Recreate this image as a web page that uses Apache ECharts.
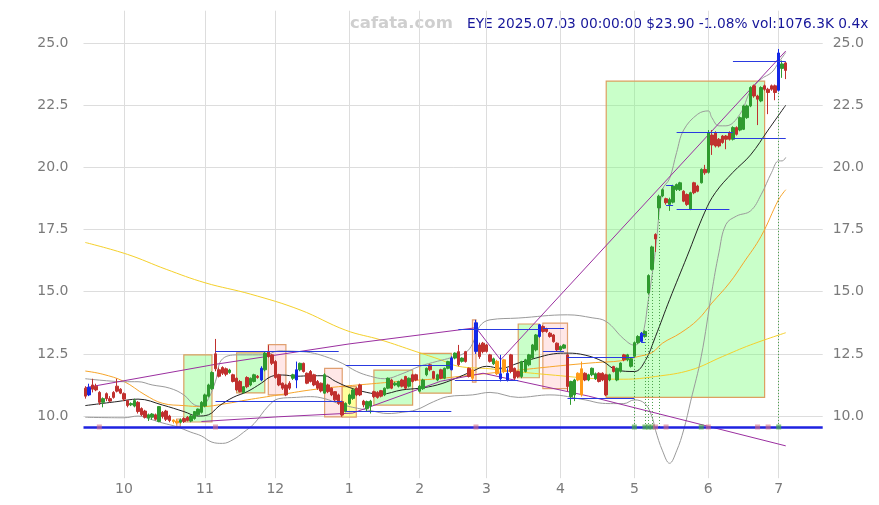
<!DOCTYPE html>
<html><head><meta charset="utf-8">
<script src="https://cdn.jsdelivr.net/npm/echarts@6/dist/echarts.min.js"></script>
<style>html,body{margin:0;padding:0;background:#fff}#c{width:879px;height:505px}</style>
</head><body><div id="c"></div>
<script>
// ---------------- DATA ----------------
const holidayList = ['2024-11-28','2024-12-25','2025-01-01','2025-01-09','2025-01-20','2025-02-17','2025-04-18','2025-05-26','2025-06-19','2025-07-04'];
const firstDay = '2024-09-16';
const tradingDays = 200;
const padDays = 10;

// daily candles: [open, close, low, high]
const ohlc = [
[11.12,10.80,10.70,11.20],[10.85,11.15,10.80,11.30],[11.25,11.08,10.95,11.50],[11.20,11.05,11.00,11.30],[10.95,10.55,10.45,11.00],
[10.55,10.70,10.35,10.75],[10.90,10.70,10.60,10.95],[10.70,10.60,10.55,10.80],[10.95,10.75,10.70,11.00],[11.20,11.00,10.95,11.50],
[11.08,10.92,10.88,11.12],[10.90,10.68,10.60,10.95],[10.62,10.42,10.35,10.65],[10.45,10.50,10.40,10.55],[10.40,10.62,10.35,10.70],
[10.55,10.18,10.10,10.60],[10.30,10.05,10.00,10.35],[10.20,9.95,9.90,10.25],[9.92,10.05,9.80,10.10],[9.95,10.08,9.85,10.12],
[10.05,9.87,9.82,10.10],[9.78,10.38,9.75,10.40],[10.15,9.98,9.90,10.20],[10.20,9.87,9.80,10.25],[10.00,9.82,9.75,10.05],
[9.84,9.78,9.70,9.86],[9.80,9.72,9.66,9.88],[9.75,9.85,9.70,9.90],[9.90,9.78,9.72,9.95],[9.95,9.82,9.78,10.00],
[9.80,10.00,9.75,10.05],[9.90,10.18,9.85,10.20],[10.05,10.28,10.00,10.30],[10.15,10.55,10.10,10.60],[10.40,10.85,10.35,10.90],
[10.80,11.25,10.75,11.30],[11.10,11.75,11.05,11.80],[12.50,11.90,11.80,13.10],[11.86,11.60,11.55,11.95],[11.95,11.72,11.65,12.00],
[11.90,11.68,11.60,11.95],[11.75,11.85,11.70,11.90],[11.66,11.39,11.35,11.70],[11.52,11.05,11.00,11.55],[11.39,10.98,10.95,11.45],
[10.95,11.18,10.90,11.20],[11.55,11.18,11.12,11.60],[11.25,11.52,11.20,11.55],[11.39,11.66,11.35,11.70],[11.60,11.55,11.50,11.65],
[11.45,11.92,11.40,12.00],[11.86,12.53,11.80,12.58],[12.59,12.39,12.35,12.85],[12.46,12.12,12.05,12.50],[12.19,11.55,11.50,12.25],
[11.66,11.25,11.20,11.70],[11.32,11.12,11.05,11.35],[11.25,10.85,10.80,11.30],[11.32,11.12,11.05,11.40],[11.52,11.66,11.45,11.70],
[11.45,11.86,11.12,12.19],[11.86,12.12,11.80,12.15],[12.12,11.79,11.75,12.15],[11.72,11.32,11.28,11.75],[11.79,11.39,11.35,11.85],
[11.66,11.25,11.20,11.70],[11.39,11.12,11.05,11.45],[11.32,11.01,10.95,11.35],[10.92,11.66,10.90,11.72],[11.25,10.98,10.92,11.30],
[11.12,10.85,10.80,11.15],[10.98,10.65,10.60,11.00],[10.85,10.51,10.45,10.90],[10.58,10.04,9.97,10.62],[10.18,10.51,10.15,10.55],
[10.50,10.85,10.45,10.90],[10.71,11.05,10.65,11.10],[11.12,10.85,10.80,11.15],[11.25,10.85,10.80,11.30],[10.60,10.45,10.35,10.65],
[10.30,10.58,10.20,10.62],[10.40,10.60,10.10,10.65],[10.98,10.78,10.72,11.02],[10.95,10.75,10.70,11.00],[11.02,10.80,10.75,11.05],
[10.85,11.12,10.80,11.15],[11.12,11.52,11.08,11.55],[11.45,11.12,11.08,11.50],[11.25,11.32,11.20,11.38],[11.20,11.39,11.15,11.42],
[11.45,11.20,11.15,11.50],[11.59,11.12,11.08,11.62],[11.20,11.52,11.15,11.55],[11.66,11.39,11.35,11.70],[11.66,11.45,11.40,11.70],
[11.00,11.20,10.95,11.25],[11.10,11.45,11.05,11.50],[11.66,11.92,11.60,11.95],[12.06,11.86,11.80,12.10],[11.79,11.52,11.48,11.82],
[11.45,11.66,11.40,11.70],[11.86,11.52,11.48,11.90],[11.52,11.92,11.48,11.95],[11.92,12.19,11.88,12.22],[11.86,12.33,11.84,12.40],
[12.33,12.53,12.28,12.56],[12.59,12.06,12.00,12.86],[12.20,12.33,12.15,12.36],[12.59,12.19,12.15,12.62],[11.92,11.59,11.55,11.95],
[11.86,11.52,11.42,11.90],[12.60,13.75,12.50,13.87],[12.86,12.39,12.30,12.95],[12.93,12.59,12.52,12.98],[12.86,12.60,12.55,12.90],
[12.46,12.20,12.15,12.50],[12.10,12.30,12.05,12.35],[12.20,11.70,11.65,12.26],[11.70,11.50,11.39,12.46],[12.26,11.79,11.72,12.30],
[11.45,11.72,11.39,11.92],[12.46,11.79,11.72,12.50],[11.92,11.52,11.45,11.95],[11.79,11.59,11.52,11.82],[11.59,12.19,11.52,12.22],
[11.79,12.26,11.75,12.30],[12.06,12.46,12.00,12.50],[12.33,12.86,12.28,12.90],[12.66,13.26,12.60,13.30],[13.20,13.67,13.15,13.70],
[13.60,13.40,13.35,13.65],[13.50,13.40,13.35,13.55],[13.33,13.20,13.15,13.38],[13.26,12.99,12.95,13.30],[12.93,12.66,12.60,12.96],
[12.66,12.80,12.62,12.84],[12.73,12.86,12.70,12.90],[12.46,11.19,11.00,12.50],[10.78,11.39,10.45,11.42],[10.85,11.45,10.60,11.50],
[11.72,11.45,11.40,11.76],[10.85,11.90,10.78,12.19],[11.72,11.45,11.40,11.76],[11.45,11.66,11.40,11.70],[11.66,11.92,11.60,11.95],
[11.50,11.70,11.45,11.75],[11.72,11.39,11.35,11.76],[11.72,11.45,11.40,11.76],[11.66,10.85,10.80,11.70],[11.45,11.66,11.40,11.70],
[11.99,11.79,11.75,12.02],[11.45,11.92,11.40,11.95],[11.80,12.13,11.75,12.16],[12.46,12.26,12.20,12.50],[12.26,12.46,12.20,12.50],
[12.00,12.30,11.95,12.35],[12.40,12.95,12.35,13.00],[12.95,13.20,12.90,13.25],[13.00,13.33,12.95,13.38],[13.20,13.40,13.15,13.45],
[14.95,15.65,14.90,15.70],[15.90,16.80,15.85,16.85],[17.30,17.12,16.60,17.35],[18.37,18.84,17.90,18.90],[18.85,19.10,18.80,19.15],
[18.74,18.58,18.50,18.78],[18.51,18.71,18.25,18.78],[18.60,19.25,18.55,19.30],[19.11,19.31,19.05,19.35],[19.10,19.38,19.05,19.42],
[19.04,18.64,18.60,19.08],[18.91,18.51,18.45,18.95],[18.31,18.98,18.28,19.02],[19.38,18.98,18.92,19.42],[19.25,19.04,19.00,19.30],
[19.38,19.92,19.35,19.96],[19.92,19.78,19.70,20.10],[19.80,21.40,19.75,21.50],[21.30,20.90,20.50,21.50],[21.40,20.86,20.80,21.45],
[21.13,20.86,20.80,21.18],[21.26,21.00,20.95,21.30],[21.26,21.13,20.73,21.30],[21.40,21.13,21.08,21.45],[21.13,21.60,21.08,21.65],
[21.60,21.33,21.28,21.65],[21.50,22.00,21.45,22.05],[21.53,22.47,21.50,22.52],[22.00,22.47,21.95,22.52],[22.47,23.21,22.42,23.26],
[23.28,22.87,22.80,23.33],[22.87,22.74,21.70,22.92],[22.67,23.21,22.62,23.26],[23.28,23.14,23.08,23.33],[23.14,23.01,22.14,23.20],
[23.28,23.14,23.08,23.33],[23.28,23.01,22.70,23.33],[23.10,24.60,23.05,24.76],[23.98,24.16,23.60,24.30],[24.20,23.90,23.55,24.25]
];

// signal days (indices into ohlc)
const blueSignalDays = [1,50,60,104,111,118,120,129,158,197];
const orangeSignalDays = [25,26,110,117,119,140,141];

// indicator lines: [dayIndex, value]
const ma20 = [[0,10.42],[9,10.58],[15,10.68],[22,10.44],[28,10.18],[32,10.0],[35,10.05],[38,10.4],[42,10.75],[46,10.98],[50,11.32],[53,11.6],[56,11.65],[60,11.6],[64,11.62],[68,11.62],[71,11.4],[75,11.15],[80,10.95],[84,10.88],[90,11.05],[95,11.12],[100,11.25],[105,11.5],[110,11.8],[114,12.0],[118,11.92],[123,12.13],[128,12.33],[133,12.5],[137,12.53],[142,12.45],[147,12.2],[151,11.85],[156,11.79],[159,12.2],[162,13.2],[166,14.68],[171,16.43],[176,18.2],[179,18.98],[184,19.8],[189,20.5],[194,21.5],[199,22.5]];
const ma50 = [[0,11.81],[5,11.68],[11,11.39],[17,10.85],[22,10.51],[28,10.42],[33,10.38],[40,10.5],[46,10.65],[55,10.85],[64,11.05],[72,11.18],[80,11.28],[90,11.4],[100,11.5],[110,11.65],[120,11.8],[130,11.95],[137,12.05],[145,12.15],[152,12.22],[157,12.39],[161,12.55],[164,12.93],[169,13.33],[174,13.87],[178,14.54],[183,15.35],[187,16.16],[192,17.23],[197,18.71],[199,19.1]];
const ma200 = [[0,16.98],[12,16.5],[23,15.9],[34,15.36],[47,14.9],[61,14.27],[74,13.45],[84,13.06],[94,12.59],[101,12.26],[106,12.0],[115,11.9],[125,11.75],[135,11.62],[143,11.52],[153,11.48],[162,11.59],[172,11.85],[181,12.39],[189,12.86],[199,13.35]];
const bandUpper = [[0,11.5],[6,11.42],[11,11.38],[15,11.38],[19,11.25],[24,11.12],[28,10.85],[31,10.45],[33,10.4],[35,10.7],[37,11.4],[39,12.3],[44,12.46],[51,12.46],[55,12.62],[60,12.6],[64,12.55],[68,12.4],[73,12.12],[77,11.8],[81,11.6],[85,11.5],[90,11.7],[95,12.0],[100,12.2],[104,12.35],[108,12.55],[110,12.9],[112,13.6],[115,13.87],[123,13.94],[137,14.07],[144,13.95],[148,13.8],[153,13.1],[156,12.85],[158,13.1],[160,14.7],[162,16.7],[164,19.1],[166,19.55],[168,20.6],[170,21.5],[174,22.14],[177,22.27],[178,22.0],[180,21.67],[182,21.67],[186,22.14],[189,23.08],[192,23.55],[195,23.82],[197,24.22],[199,24.62]];
const bandLower = [[0,9.95],[11,9.93],[15,10.0],[19,9.85],[22,9.72],[26,9.57],[30,9.35],[33,9.2],[36,8.95],[39,8.9],[42,9.05],[45,9.35],[48,9.7],[52,10.4],[55,10.7],[60,10.75],[64,10.78],[68,10.7],[72,10.5],[76,10.35],[81,10.22],[86,10.1],[90,10.15],[94,10.25],[99,10.58],[103,10.78],[110,10.85],[115,10.95],[123,10.75],[132,10.85],[142,10.65],[147,10.51],[150,10.5],[153,10.5],[156,10.65],[159,10.5],[161,9.97],[162,9.43],[164,8.6],[166,8.1],[168,8.6],[170,9.44],[172,10.6],[175,12.4],[178,15.0],[180,16.56],[182,17.7],[185,18.04],[189,18.25],[192,18.9],[195,19.8],[197,20.26],[198,20.26],[199,20.4]];
const trendHigh = [[0,11.14],[37,12.08],[75,12.9],[111,13.55],[118,12.26],[199,24.68]];
const trendLow = [[33,9.78],[55,9.97],[76,10.12],[101,11.4],[113,11.72],[143,10.8],[199,8.8]];

// zones: [fromDay, toDay, top, bottom, kind]
const zones = [
[28,36,12.46,9.76,'up'],[43,51,12.54,10.93,'up'],[52,57,12.87,10.85,'down'],[68,73,11.92,9.97,'down'],
[73,77,11.18,9.96,'flat'],[82,93,11.85,10.44,'up'],[95,104,12.52,10.92,'up'],[110,111,13.87,11.36,'down'],
[123,129,13.70,11.54,'up'],[130,137,13.74,11.10,'down'],[148,193,23.47,10.75,'up'],[26,27,9.88,9.57,'down']
];
// price levels: [fromDay, toDay, value]
const levels = [
[37,72,12.60],[37,73,10.60],[74,104,12.06],[74,104,10.18],[106,129,13.50],[105,123,11.42],
[130,136,13.53],[130,136,12.62],[137,156,12.35],[137,156,10.71],[158,159,13.30],[158,159,12.95],
[165,167,19.28],[165,167,18.48],[168,183,18.33],[168,184,21.40],[184,199,21.16],[184,199,24.26]
];
const baseLevel = 9.56;
const greenEvents = [156,159,160,161,175,197];
const pinkEvents = [4,37,111,162,165,177,191,194];
const eventStems = [156,159,160,161,163,197];

const titleText = 'EYE 2025.07.03 00:00:00 $23.90 -1.08% vol:1076.3K 0.4x';
const siteText = 'cafata.com';

// ---------------- BUILD ----------------
function buildDates(start, count) {
  const out = [];
  let t = Date.parse(start + 'T00:00:00Z');
  while (out.length < count) {
    const d = new Date(t);
    const dow = d.getUTCDay();
    const s = d.toISOString().slice(0, 10);
    if (dow !== 0 && dow !== 6 && holidayList.indexOf(s) < 0) out.push(s);
    t += 86400000;
  }
  return out;
}
const categories = buildDates(firstDay, tradingDays + padDays);
const monthStartList = [];
for (let i = 1; i < tradingDays; i++) {
  if (categories[i].slice(5, 7) !== categories[i - 1].slice(5, 7)) monthStartList.push(i);
}
const monthStart = new Set(monthStartList);

const UP = '#2f9a2f', DOWN = '#c0302e', BLUE = '#1428e6', ORANGE = '#ff9a1a';
const candleData = ohlc.map((d, i) => {
  const item = { value: d };
  let c = null;
  if (blueSignalDays.indexOf(i) >= 0) c = BLUE;
  else if (orangeSignalDays.indexOf(i) >= 0) c = ORANGE;
  if (c) item.itemStyle = { color: c, color0: c, borderColor: c, borderColor0: c };
  return item;
});

const zoneStyle = {
  up: { color: 'rgba(120,255,120,0.40)', borderColor: '#dca060', borderWidth: 1.2 },
  down: { color: 'rgba(255,170,170,0.28)', borderColor: '#e0a070', borderWidth: 1.2 },
  flat: { color: 'rgba(255,255,90,0.60)', borderColor: '#e0a070', borderWidth: 1.2 }
};
const areaData = zones.map(z => [
  { coord: [z[0], z[2]], itemStyle: zoneStyle[z[4]] },
  { coord: [z[1], z[3]] }
]);

const lineMarks = [];
levels.forEach(l => lineMarks.push([
  { coord: [l[0], l[2]], lineStyle: { color: '#2a3ae0', width: 1, type: 'solid' } },
  { coord: [l[1], l[2]] }
]));
eventStems.forEach(i => lineMarks.push([
  { coord: [i, baseLevel], lineStyle: { color: '#4aa04a', width: 1, type: [1, 2] } },
  { coord: [i, ohlc[i][2]] }
]));
lineMarks.push({ yAxis: baseLevel, lineStyle: { color: '#1e22e0', width: 2.5, type: 'solid' } });

// vertical month grid lines, centred on the first trading day of each month
const monthGrid = monthStartList.map(i => ({ xAxis: i }));

function lineSeries(name, data, color, width, smooth, z) {
  return { name, type: 'line', data, showSymbol: false, symbol: 'none', smooth: smooth,
    lineStyle: { color, width }, itemStyle: { color }, z: z || 3, silent: true, animation: false };
}

const gridColors = ['rgba(0,0,0,0)', '#dddddd', '#dddddd', '#dddddd', '#dddddd', '#dddddd', '#dddddd', '#dddddd', 'rgba(0,0,0,0)'];

const ma200Series = lineSeries('MA200', ma200, '#f5d02a', 1, 0.4, 2);
ma200Series.markLine = { silent: true, z: 0, symbol: ['none', 'none'], label: { show: false },
  lineStyle: { color: '#dddddd', width: 1, type: 'solid' }, data: monthGrid, animation: false };

const chart = echarts.init(document.getElementById('c'), null, { renderer: 'canvas' });
chart.setOption({
  animation: false,
  backgroundColor: '#ffffff',
  grid: { left: 83.5, right: 56.3, top: 10.7, bottom: 26.8, containLabel: false },
  xAxis: {
    type: 'category', data: categories, boundaryGap: true,
    axisLine: { show: false }, axisTick: { show: false },
    axisLabel: {
      interval: (i) => monthStart.has(i),
      formatter: (v) => String(parseInt(v.slice(5, 7), 10)),
      color: '#7a7a7a', fontSize: 14, margin: 4, fontFamily: 'DejaVu Sans'
    },
    splitLine: { show: false }
  },
  yAxis: [
    { type: 'value', position: 'left', min: 7.5, max: 26.3, interval: 2.5,
      axisLine: { show: false }, axisTick: { show: false },
      axisLabel: { color: '#7a7a7a', fontSize: 14, margin: 15, fontFamily: 'DejaVu Sans',
        formatter: (v) => v.toFixed(1), showMinLabel: false, showMaxLabel: false },
      splitLine: { show: true, lineStyle: { color: gridColors, width: 1 } } },
    { type: 'value', position: 'right', min: 7.5, max: 26.3, interval: 2.5,
      axisLine: { show: false }, axisTick: { show: false },
      axisLabel: { color: '#7a7a7a', fontSize: 14, margin: 10, fontFamily: 'DejaVu Sans',
        formatter: (v) => v.toFixed(1), showMinLabel: false, showMaxLabel: false },
      splitLine: { show: false } }
  ],
  graphic: [
    { type: 'text', left: 350, top: 15, silent: true,
      style: { text: siteText, fill: '#cfcfcf', font: 'bold 16.5px "DejaVu Sans"' } },
    { type: 'text', left: 467, top: 17, silent: true,
      style: { text: titleText, fill: '#16169a', font: '13.75px "DejaVu Sans"' } }
  ],
  series: [
    ma200Series,
    lineSeries('MA50', ma50, '#f7a52a', 1, 0.4, 2),
    lineSeries('BB upper', bandUpper, '#9a9a9a', 1, 0.4, 2),
    lineSeries('BB lower', bandLower, '#9a9a9a', 1, 0.4, 2),
    lineSeries('MA20', ma20, '#222222', 1, 0.4, 2),
    lineSeries('trend high', trendHigh, '#9b2fa0', 1, false, 2),
    lineSeries('trend low', trendLow, '#9b2fa0', 1, false, 2),
    {
      name: 'EYE', type: 'candlestick', data: candleData, barWidth: 3, z: 4,
      itemStyle: { color: UP, color0: DOWN, borderColor: UP, borderColor0: DOWN, borderWidth: 1 },
      markArea: { silent: true, data: areaData, label: { show: false } },
      markLine: { silent: true, symbol: ['none', 'none'], label: { show: false }, data: lineMarks, animation: false }
    },
    { name: 'green events', type: 'scatter', symbol: 'rect', symbolSize: 5, z: 6, silent: true,
      data: greenEvents.map(i => [i, baseLevel]), itemStyle: { color: 'rgba(70,170,70,0.85)' } },
    { name: 'pink events', type: 'scatter', symbol: 'rect', symbolSize: 5, z: 6, silent: true,
      data: pinkEvents.map(i => [i, baseLevel]), itemStyle: { color: 'rgba(215,110,130,0.75)' } }
  ]
});
</script>
</body></html>
